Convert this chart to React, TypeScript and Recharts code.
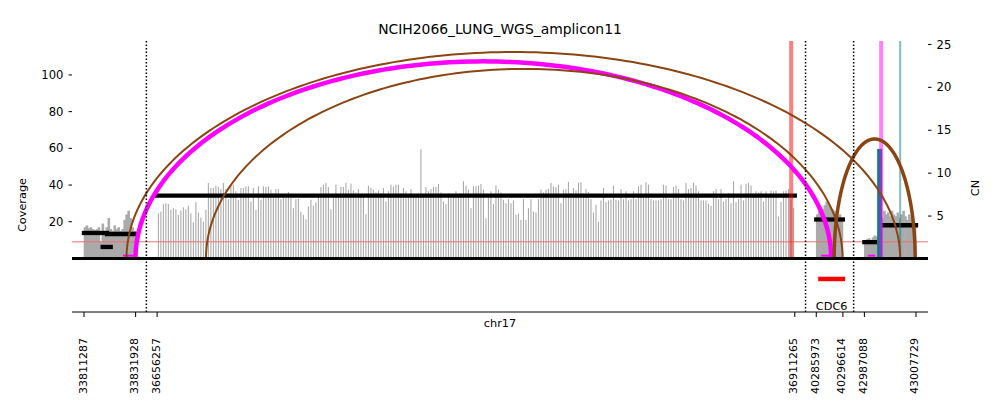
import React from "react";
import {
  Bar,
  ComposedChart,
  Line,
  ReferenceDot,
  ReferenceLine,
  XAxis,
  YAxis,
} from "recharts";

// genomic segments of chr17 shown on the broken x axis
const SEG_STARTS = [33811287, 36656257, 40285973, 42987088];
const SEG_ENDS = [33831928, 36911265, 40296614, 43007729];
const GAP = 8600; // bp-equivalent space between segments
const PAD = 4800;

// coverage per window, one array per segment
const seg1Cov = [
  17, 18, 16.5, 17, 16, 15.5, 16, 17, 9, 19, 15, 17, 22, 16, 15, 18, 16, 17,
  15, 16, 21, 24, 26, 22, 17, 15,
];
const seg2Cov = [
  24.6, 25.5, 29.6, 30.1, 29.6, 26.5, 27.4, 26.8, 23.7, 26.1,
  27.9, 26.8, 28.7, 24.6, 19.7, 30.7, 25, 22.2, 20, 26.5,
  41.1, 38.4, 38.4, 39.7, 39, 37.8, 41.1, 37.8, 32.3, 39.3,
  40.2, 36.6, 32, 38.4, 38.4, 39.3, 39.3, 31, 38.4, 26.5,
  39.3, 32, 39.3, 39, 39.3, 37.5, 35.6, 37.8, 37.8, 32.3,
  32.9, 32.9, 36.2, 32.9, 27.4, 32.3, 32.5, 25.5, 23.7, 21.3,
  28.3, 32, 28.7, 30.5, 34.7, 38.9, 40.2, 41.2, 38.9, 26.8,
  34, 40.2, 34, 38.9, 38.9, 41.2, 37.5, 40.8, 37.1, 36,
  37.8, 34, 34, 24.1, 39.7, 38.4, 37.5, 36, 37.1, 35.6,
  38.4, 31, 36.6, 40.2, 39.3, 40.2, 40.2, 35.6, 38.4, 36.6,
  34, 37.8, 34, 34, 34, 59.5, 34, 38.9, 36.6, 37.8,
  38.9, 38.9, 40.6, 36, 31, 29.6, 35.6, 33, 34, 36.6,
  34, 35.6, 42.1, 39.7, 37.5, 27.4, 39.3, 39.3, 39.7, 40.6,
  37.5, 21.9, 33, 36.6, 29.6, 39.7, 37.5, 36, 32, 30.1,
  32.3, 30.1, 31.6, 23.7, 24.3, 21, 32.3, 21, 27.4, 32.3,
  25.5, 25, 32.3, 37.5, 36, 37.5, 38, 41.2, 39.3, 38.9,
  40.2, 30.1, 37.5, 37.8, 41.7, 35.6, 38.4, 37.1, 41.2, 41.5,
  35.6, 37.8, 36.2, 32.3, 25, 29.2, 20, 31.6, 38.4, 30.7,
  31.6, 32, 39.7, 32, 31.6, 37.8, 32.3, 36.6, 31.6, 32.3,
  36.6, 32.3, 39.3, 40.2, 34, 41.5, 40.2, 32.3, 31.6, 31.6,
  31.6, 32.3, 40.2, 39.7, 32.3, 32.3, 38.9, 39.7, 37.8, 32.3,
  31.6, 41.2, 37.8, 38.4, 41.2, 39.7, 36.6, 31.6, 31.6, 31.6,
  29.8, 28.7, 36.6, 37.8, 32.3, 37.8, 31, 32.3, 35.6, 30.1,
  42.1, 30.7, 32.3, 40.2, 31.6, 40.6, 41.2, 39.7, 35.6, 36.6,
  36, 36.6, 31, 36.6, 34, 37.1, 36.6, 37.1, 22.8, 30.7,
  36.6, 37.1, 37.8, 32.3, 27.4,
];
const seg3Cov = [24, 26, 28, 27, 29, 31, 30, 28, 27, 26, 25, 23, 24, 22];
const seg4Cov = [
  10, 10.5, 11, 10, 11.5, 12.5, 12, 13, 20, 22, 26, 24, 25, 23, 26, 24, 23,
  25, 22, 24, 26, 23, 21, 24, 22, 20, 18,
];

// copy number segments
const cnStarts = [33811287, 33820487, 33818767, 36656257, 40285973, 42987088, 42994998];
const cnEnds = [33820487, 33831928, 33821967, 36911265, 40296614, 42991398, 43007729];
const cnValues = [3.03, 2.91, 1.4, 7.38, 4.6, 1.96, 3.93];

// breakpoint arcs
const arcStarts = [33831887, 33828287, 36675816, 40293124];
const arcEnds = [40291924, 43001398, 40296500, 43007398];
const arcPeaks = [107.4, 112.5, 103.3, 65.1];
const arcStyles = [
  { color: "#ff00ff", width: 4.5 },
  { color: "#8b4513", width: 2 },
  { color: "#8b4513", width: 2 },
  { color: "#8b4513", width: 3.5 },
];

// single-ended edges (vertical lines)
const edgePositions = [36909816, 42993798, 43001398];
const edgeStyles = [
  { color: "#ff0000", width: 4 },
  { color: "#ff00ff", width: 4 },
  { color: "#008080", width: 2 },
];
const spikePos = 42993198;
const spikeCov = 59.7;

// small foldback marks at the baseline
const foldStarts = [33826887, 40287924, 42988598];
const foldEnds = [33831687, 40291524, 42991398];

const geneName = "CDC6";
const geneStart = 40287633;
const geneEnd = 40304657;

const segOffsets = SEG_STARTS.map((_, i) =>
  SEG_STARTS.slice(0, i).reduce((s, st, j) => s + SEG_ENDS[j] - st + GAP, 0),
);
const totalU = segOffsets[3] + SEG_ENDS[3] - SEG_STARTS[3];

function toU(g: number) {
  let i = 0;
  SEG_STARTS.forEach((s, k) => {
    if (g >= s) i = k;
  });
  const c = Math.min(Math.max(g, SEG_STARTS[i]), SEG_ENDS[i]);
  return segOffsets[i] + c - SEG_STARTS[i];
}

const coverageData = [seg1Cov, seg2Cov, seg3Cov, seg4Cov].flatMap((vals, s) => {
  const step = (SEG_ENDS[s] - SEG_STARTS[s]) / vals.length;
  return vals.map((cov, i) => ({
    x: toU(SEG_STARTS[s] + step * (i + 0.5)),
    cov,
    win: step,
  }));
});

function arcPoints(a: number, b: number, h: number) {
  const ua = toU(a);
  const ub = toU(b);
  const cx = (ua + ub) / 2;
  const rx = (ub - ua) / 2;
  const pts = [];
  for (let k = 0; k <= 160; k++) {
    const t = (Math.PI * k) / 160;
    pts.push({ x: cx - rx * Math.cos(t), y: h * Math.sin(t) });
  }
  return pts;
}

const tickBp = SEG_STARTS.flatMap((s, i) => [s, SEG_ENDS[i]]);
const tickU = tickBp.map(toU);
const breaks = SEG_STARTS.slice(1).map(
  (_, i) => segOffsets[i] + SEG_ENDS[i] - SEG_STARTS[i] + GAP / 2,
);

const COV_DOMAIN = [-29.2, 118.5];
const CN_DOMAIN = [-6.18, 25.4];

function CovBar(props: any) {
  const { x, y, width, height, payload } = props;
  if (!height || height <= 0) return null;
  const w = payload.win < 1000 ? 2.6 : 1.1;
  return <rect x={x + width / 2 - w / 2} y={y} width={w} height={height} fill="#aaaaaa" />;
}

function XTick(props: any) {
  const { x, y, payload } = props;
  const label = tickBp[tickU.indexOf(payload.value)];
  return (
    <text
      x={x - 1}
      y={y}
      transform={`rotate(-90 ${x - 1} ${y})`}
      textAnchor="end"
      dominantBaseline="central"
      fontSize={11}
      fill="#000"
    >
      {label}
    </text>
  );
}

function AxisTitle(props: any) {
  const { viewBox, text, dx, dy } = props;
  const cx = viewBox.x + dx;
  const cy = viewBox.y + dy;
  return (
    <text
      x={cx}
      y={cy}
      transform={`rotate(-90 ${cx} ${cy})`}
      textAnchor="middle"
      dominantBaseline="central"
      fontSize={11.3}
      fill="#000"
    >
      {text}
    </text>
  );
}

export default function App() {
  return (
    <div
      style={{
        position: "absolute",
        left: 0,
        top: 0,
        width: 1000,
        height: 416,
        background: "#fff",
        fontFamily: "DejaVu Sans",
      }}
    >
      <div
        style={{
          position: "absolute",
          top: 21,
          left: 0,
          width: 1000,
          textAlign: "center",
          fontSize: 13.9,
          lineHeight: "16px",
        }}
      >
        NCIH2066_LUNG_WGS_amplicon11
      </div>
      <ComposedChart
        width={1000}
        height={416}
        data={coverageData}
        margin={{ top: 41, right: 12, bottom: 14, left: 12 }}
      >
        <XAxis
          dataKey="x"
          type="number"
          domain={[-PAD, totalU + PAD]}
          allowDataOverflow
          ticks={tickU}
          interval={0}
          height={90}
          tickSize={5}
          tickMargin={21}
          tick={<XTick />}
          axisLine={{ stroke: "#000" }}
          tickLine={{ stroke: "#000" }}
          label={{ value: "chr17", position: "insideTop", offset: 7, fontSize: 11.3, fill: "#000" }}
        />
        <YAxis
          yAxisId="cov"
          orientation="left"
          width={60}
          type="number"
          domain={COV_DOMAIN}
          allowDataOverflow
          ticks={[20, 40, 60, 80, 100]}
          axisLine={false}
          tickSize={3.5}
          tickMargin={5}
          tickLine={{ stroke: "#000" }}
          tick={{ fontSize: 11.6, fill: "#000" }}
          label={<AxisTitle text="Coverage" dx={10} dy={164} />}
        />
        <YAxis
          yAxisId="cn"
          orientation="right"
          width={60}
          type="number"
          domain={CN_DOMAIN}
          allowDataOverflow
          ticks={[5, 10, 15, 20, 25]}
          axisLine={false}
          tickSize={3.5}
          tickMargin={5}
          tickLine={{ stroke: "#000" }}
          tick={{ fontSize: 11.6, fill: "#000" }}
          label={<AxisTitle text="CN" dx={47} dy={147} />}
        />

        <Bar
          yAxisId="cov"
          dataKey="cov"
          barSize={1}
          shape={<CovBar />}
          isAnimationActive={false}
        />

        <ReferenceLine yAxisId="cn" y={2} stroke="#ee7070" strokeWidth={1} />

        {cnStarts.map((s, i) => (
          <ReferenceLine
            key={`cn${i}`}
            yAxisId="cn"
            segment={[
              { x: toU(s), y: cnValues[i] },
              { x: toU(cnEnds[i]), y: cnValues[i] },
            ]}
            stroke="#000"
            strokeWidth={4.3}
            strokeLinecap="square"
          />
        ))}

        <ReferenceLine
          yAxisId="cov"
          segment={[
            { x: toU(spikePos), y: 0 },
            { x: toU(spikePos), y: spikeCov },
          ]}
          stroke="#008080"
          strokeWidth={5}
        />

        {edgePositions.map((p, i) => (
          <ReferenceLine
            key={`edge${i}`}
            yAxisId="cov"
            segment={[
              { x: toU(p), y: 0 },
              { x: toU(p), y: COV_DOMAIN[1] },
            ]}
            stroke={edgeStyles[i].color}
            strokeOpacity={0.5}
            strokeWidth={edgeStyles[i].width}
          />
        ))}

        {foldStarts.map((s, i) => (
          <ReferenceLine
            key={`fold${i}`}
            yAxisId="cov"
            segment={[
              { x: toU(s), y: 1.5 },
              { x: toU(foldEnds[i]), y: 1.5 },
            ]}
            stroke="#ff00ff"
            strokeWidth={2}
          />
        ))}

        {arcStarts.map((a, i) => (
          <Line
            key={`arc${i}`}
            yAxisId="cov"
            data={arcPoints(a, arcEnds[i], arcPeaks[i])}
            dataKey="y"
            type="linear"
            stroke={arcStyles[i].color}
            strokeWidth={arcStyles[i].width}
            dot={false}
            activeDot={false}
            isAnimationActive={false}
          />
        ))}

        <ReferenceLine yAxisId="cov" y={0} stroke="#000" strokeWidth={3} />

        {breaks.map((b, i) => (
          <ReferenceLine
            key={`brk${i}`}
            yAxisId="cov"
            x={b}
            stroke="#000"
            strokeWidth={1.5}
            strokeDasharray="1.5 2"
          />
        ))}

        <ReferenceLine
          yAxisId="cov"
          segment={[
            { x: toU(geneStart), y: -11.2 },
            { x: toU(geneEnd), y: -11.2 },
          ]}
          stroke="#ff0000"
          strokeWidth={4.5}
          strokeLinecap="square"
        />
        <ReferenceDot
          yAxisId="cov"
          x={(toU(geneStart) + toU(geneEnd)) / 2}
          y={-26}
          r={0}
          fill="none"
          stroke="none"
          label={{ value: geneName, position: "center", fontSize: 11.3, fill: "#000" }}
        />
      </ComposedChart>
    </div>
  );
}
